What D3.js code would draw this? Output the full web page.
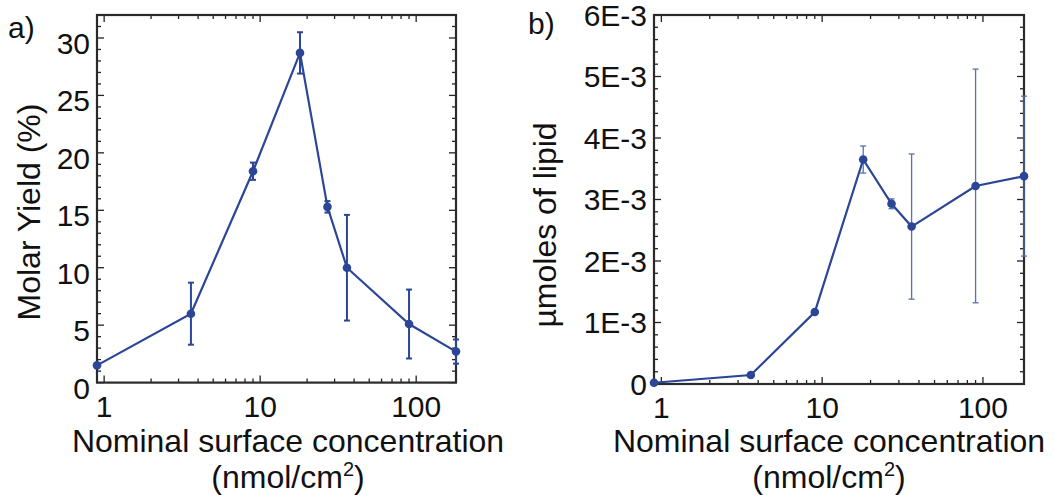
<!DOCTYPE html>
<html>
<head>
<meta charset="utf-8">
<script src="https://cdn.jsdelivr.net/npm/d3@7"></script>
<style>
  body { margin: 0; background: #fff; }
  svg text { font-family: "Liberation Sans", Arial, sans-serif; fill: #111; }
</style>
</head>
<body>
<svg id="chart" width="1055" height="495"></svg>
<script>
// nominal surface concentration (nmol/cm2)
const conc = [0.9, 3.6, 9, 18, 27, 36, 90, 180];

// panel a: molar yield (%)
const yieldPct = [1.5, 6.0, 18.4, 28.7, 15.3, 10.0, 5.1, 2.7];
const yieldErr = [0, 2.7, 0.75, 1.8, 0.5, 4.6, 3.0, 1.05];
const yieldTicks = [0, 5, 10, 15, 20, 25, 30];

// panel b: µmoles of lipid
const lipid = [0.00002, 0.000146, 0.00117, 0.00365, 0.00293, 0.00256, 0.00322, 0.00338];
const lipidErr = [0, 0.00003, 0.00002, 0.00022, 0.00008, 0.00118, 0.0019, 0.0013];
const lipidTicks = [0, 0.001, 0.002, 0.003, 0.004, 0.005, 0.006];
const lipidTickLabels = ['0', '1E-3', '2E-3', '3E-3', '4E-3', '5E-3', '6E-3'];

const xTicks = [1, 10, 100];

const blue = '#2b4597';
const svg = d3.select('#chart');

function drawPanel(p) {
  const g = svg.append('g');
  const x = d3.scaleLog().domain([0.9, 180]).range([p.left, p.right]);
  const y = d3.scaleLinear().domain(p.yDomain).range([p.bottom, p.top]);

  // minor + major ticks, inward on all four sides
  const xMinor = [];
  for (let dec = 1; dec <= 100; dec *= 10)
    for (let m = 1; m < 10; m++) { const v = dec * m; if (v >= 0.9 && v <= 180) xMinor.push(v); }
  xMinor.forEach(v => {
    const len = xTicks.includes(v) ? 7 : 4;
    g.append('line').attr('x1', x(v)).attr('x2', x(v)).attr('y1', p.bottom).attr('y2', p.bottom - len)
      .attr('stroke', '#222').attr('stroke-width', 1.3);
    g.append('line').attr('x1', x(v)).attr('x2', x(v)).attr('y1', p.top).attr('y2', p.top + len)
      .attr('stroke', '#222').attr('stroke-width', 1.3);
  });
  const yMinor = d3.range(p.yDomain[0], p.yDomain[1] + 1e-12, p.minorStep);
  yMinor.forEach((v, i) => {
    const len = i % p.minorPerMajor === 0 ? 7 : 4;
    g.append('line').attr('x1', p.left).attr('x2', p.left + len).attr('y1', y(v)).attr('y2', y(v))
      .attr('stroke', '#222').attr('stroke-width', 1.3);
    g.append('line').attr('x1', p.right).attr('x2', p.right - len).attr('y1', y(v)).attr('y2', y(v))
      .attr('stroke', '#222').attr('stroke-width', 1.3);
  });

  // frame
  g.append('rect').attr('x', p.left).attr('y', p.top)
    .attr('width', p.right - p.left).attr('height', p.bottom - p.top)
    .attr('fill', 'none').attr('stroke', '#2a2a2a').attr('stroke-width', 2.2);

  // tick labels
  g.selectAll('.xl').data(xTicks).join('text')
    .attr('x', d => x(d)).attr('y', p.bottom + 34)
    .attr('text-anchor', 'middle').attr('font-size', 30)
    .text(d => d);
  g.selectAll('.yl').data(p.yTicks).join('text')
    .attr('x', p.left - 7).attr('y', d => y(d) + p.labelShift)
    .attr('text-anchor', 'end').attr('dominant-baseline', 'middle').attr('font-size', 30)
    .text((d, i) => p.yLabels[i]);

  // axis titles
  const cx = p.titleX;
  g.append('text').attr('x', cx).attr('y', 452).attr('text-anchor', 'middle')
    .attr('font-size', 32).text('Nominal surface concentration');
  const t2 = g.append('text').attr('x', cx).attr('y', 488).attr('text-anchor', 'middle')
    .attr('font-size', 32);
  t2.append('tspan').text('(nmol/cm');
  t2.append('tspan').attr('font-size', 20).attr('dy', -12).text('2');
  t2.append('tspan').attr('dy', 12).text(')');
  g.append('text').attr('transform', `translate(${p.yTitleX},${p.yTitleY}) rotate(-90)`)
    .attr('text-anchor', 'middle').attr('dominant-baseline', 'middle').attr('font-size', 32)
    .text(p.yTitle);
  g.append('text').attr('x', p.tagX).attr('y', p.tagY).attr('font-size', 30).text(p.tag);

  // data
  const pts = conc.map((c, i) => ({ c, v: p.values[i], e: p.errs[i] }));
  const bars = g.selectAll('.err').data(pts.filter(d => d.e > 0)).join('g');
  bars.append('line').attr('x1', d => x(d.c)).attr('x2', d => x(d.c))
    .attr('y1', d => y(d.v - d.e)).attr('y2', d => y(d.v + d.e))
    .attr('stroke', p.errColor).attr('stroke-width', p.errWidth);
  [-1, 1].forEach(s => {
    bars.append('line').attr('x1', d => x(d.c) - 3).attr('x2', d => x(d.c) + 3)
      .attr('y1', d => y(d.v + s * d.e)).attr('y2', d => y(d.v + s * d.e))
      .attr('stroke', p.errColor).attr('stroke-width', p.errWidth);
  });

  g.append('path').datum(pts)
    .attr('d', d3.line().x(d => x(d.c)).y(d => y(d.v)))
    .attr('fill', 'none').attr('stroke', blue).attr('stroke-width', 2.2);
  g.selectAll('.pt').data(pts).join('circle')
    .attr('cx', d => x(d.c)).attr('cy', d => y(d.v)).attr('r', 4.3)
    .attr('fill', blue);
}

drawPanel({
  left: 97, right: 456, top: 15, bottom: 382.6,
  yDomain: [0, 32], minorStep: 1, minorPerMajor: 5,
  yTicks: yieldTicks, yLabels: yieldTicks.map(String), labelShift: 8,
  values: yieldPct, errs: yieldErr, errColor: blue, errWidth: 2,
  yTitle: 'Molar Yield (%)', yTitleX: 32, yTitleY: 212,
  titleX: 288, tag: 'a)', tagX: 8, tagY: 38
});

drawPanel({
  left: 654, right: 1024, top: 15, bottom: 384,
  yDomain: [0, 0.006], minorStep: 0.0002, minorPerMajor: 5,
  yTicks: lipidTicks, yLabels: lipidTickLabels, labelShift: 3,
  values: lipid, errs: lipidErr, errColor: '#5670b4', errWidth: 1.3,
  yTitle: 'µmoles of lipid', yTitleX: 548, yTitleY: 225,
  titleX: 829, tag: 'b)', tagX: 528, tagY: 34
});
</script>
</body>
</html>
